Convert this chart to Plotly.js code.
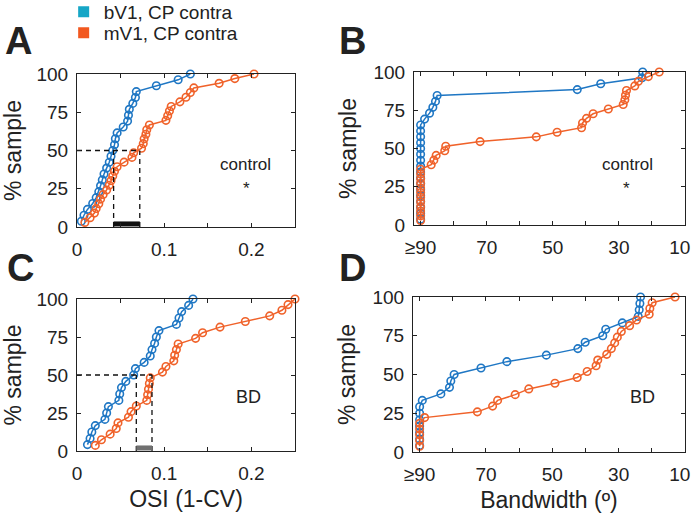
<!DOCTYPE html>
<html>
<head>
<meta charset="utf-8">
<script src="https://cdn.plot.ly/plotly-3.0.1.min.js"></script>
<style>
  html, body { margin: 0; padding: 0; background: #fff; }
  #graph { width: 692px; height: 516px; }
</style>
</head>
<body>
<div id="graph"></div>
<script>
// cumulative % of cells (y) for each group size
const pct26 = [3.8, 7.7, 11.5, 15.4, 19.2, 23.1, 26.9, 30.8, 34.6, 38.5, 42.3, 46.2, 50, 53.8, 57.7, 61.5, 65.4, 69.2, 73.1, 76.9, 80.8, 84.6, 88.5, 92.3, 96.2, 100];
const pct33 = [3, 6.1, 9.1, 12.1, 15.2, 18.2, 21.2, 24.2, 27.3, 30.3, 33.3, 36.4, 39.4, 42.4, 45.5, 48.5, 51.5, 54.5, 57.6, 60.6, 63.6, 66.7, 69.7, 72.7, 75.8, 78.8, 81.8, 84.8, 87.9, 90.9, 93.9, 97, 100];
const pct24 = [4.2, 8.3, 12.5, 16.7, 20.8, 25, 29.2, 33.3, 37.5, 41.7, 45.8, 50, 54.2, 58.3, 62.5, 66.7, 70.8, 75, 79.2, 83.3, 87.5, 91.7, 95.8, 100];
const pct27 = [3.7, 7.4, 11.1, 14.8, 18.5, 22.2, 25.9, 29.6, 33.3, 37, 40.7, 44.4, 48.1, 51.9, 55.6, 59.3, 63, 66.7, 70.4, 74.1, 77.8, 81.5, 85.2, 88.9, 92.6, 96.3, 100];

// A: OSI, control
const osiCtlB = [0.005, 0.008, 0.012, 0.018, 0.022, 0.025, 0.027, 0.029, 0.031, 0.034, 0.037, 0.039, 0.041, 0.043, 0.044, 0.046, 0.053, 0.058, 0.059, 0.060, 0.064, 0.067, 0.068, 0.091, 0.116, 0.130];
const osiCtlM = [0.009, 0.015, 0.020, 0.022, 0.025, 0.027, 0.030, 0.034, 0.037, 0.039, 0.041, 0.043, 0.046, 0.054, 0.063, 0.065, 0.074, 0.076, 0.077, 0.079, 0.080, 0.083, 0.102, 0.104, 0.106, 0.108, 0.118, 0.125, 0.130, 0.134, 0.163, 0.181, 0.203];
const medA = [0.042, 0.072];

// B: bandwidth, control (90 = >=90)
const bwCtlB = [90, 90, 90, 90, 90, 90, 90, 90, 90, 90, 90, 90, 90, 90, 90, 90, 90, 88.8, 87.3, 86.3, 85.5, 85.0, 42.6, 35.5, 23.0, 22.8];
const bwCtlM = [90, 90, 90, 90, 90, 90, 90, 90, 90, 90, 90, 90, 86.8, 86.0, 85.3, 82.7, 82.4, 72.0, 55.0, 48.7, 41.3, 41.0, 39.8, 37.8, 33.2, 28.7, 28.2, 28.0, 27.7, 25.2, 24.1, 21.1, 17.8];

// C: OSI, BD
const osiBdB = [0.012, 0.015, 0.017, 0.021, 0.032, 0.034, 0.036, 0.048, 0.049, 0.051, 0.056, 0.065, 0.067, 0.077, 0.084, 0.086, 0.089, 0.091, 0.094, 0.114, 0.117, 0.120, 0.128, 0.133];
const osiBdM = [0.021, 0.028, 0.038, 0.045, 0.047, 0.059, 0.062, 0.068, 0.080, 0.081, 0.082, 0.083, 0.084, 0.098, 0.102, 0.111, 0.112, 0.114, 0.116, 0.136, 0.144, 0.164, 0.193, 0.221, 0.235, 0.242, 0.250];
const medC = [0.068, 0.086];

// D: bandwidth, BD
const bwBdB = [90, 90, 90, 90, 90, 90, 90, 89.2, 83.6, 81.0, 80.6, 79.6, 71.5, 63.7, 51.8, 42.3, 40.1, 34.8, 33.9, 28.9, 24.1, 23.8, 23.6, 23.4];
const bwBdM = [90, 90, 90, 90, 90, 88.5, 72.6, 68.0, 66.5, 61.2, 57.1, 49.2, 42.5, 39.5, 36.8, 36.3, 33.6, 32.2, 31.2, 30.4, 29.2, 26.7, 24.6, 20.8, 20.6, 19.9, 13.0];

const groups = ['bV1, CP contra', 'mV1, CP contra'];
const osiTicks = ['0', '', '0.1', '', '0.2', ''];
// last label padded so it stays inside the page edge
const bwTicks = ['≥90', '', '70', '', '50', '', '30', '', '10\u00a0\u00a0'];

const blue = '#1f77c4', orange = '#f0622a';
const font = 'Liberation Sans, Arial, sans-serif';
const ink = '#222';

function cdf(x, y, color, xa, ya) {
  return {
    x, y, xaxis: xa, yaxis: ya, mode: 'lines+markers', showlegend: false, cliponaxis: false,
    line: { color, width: 1.5 },
    marker: { symbol: 'circle-open', size: 7.5, color, line: { width: 1.6, color } }
  };
}

function medianMarks(med, barColor, xa, ya) {
  return [
    {
      x: [0, med[1], null, med[0], med[0], null, med[1], med[1]],
      y: [50, 50, null, 0, 50, null, 0, 50],
      xaxis: xa, yaxis: ya, mode: 'lines', showlegend: false, hoverinfo: 'skip',
      line: { color: '#111', width: 1.3, dash: '5px,4px' }
    },
    {
      x: med, y: [2, 2], xaxis: xa, yaxis: ya, mode: 'lines', showlegend: false, hoverinfo: 'skip',
      line: { color: barColor, width: 5 }
    }
  ];
}

const traces = [
  cdf(osiCtlB, pct26, blue, 'x', 'y'),
  cdf(osiCtlM, pct33, orange, 'x', 'y'),
  ...medianMarks(medA, '#111', 'x', 'y'),
  cdf(bwCtlB, pct26, blue, 'x2', 'y2'),
  cdf(bwCtlM, pct33, orange, 'x2', 'y2'),
  cdf(osiBdB, pct24, blue, 'x3', 'y3'),
  cdf(osiBdM, pct27, orange, 'x3', 'y3'),
  ...medianMarks(medC, '#707070', 'x3', 'y3'),
  cdf(bwBdB, pct24, blue, 'x4', 'y4'),
  cdf(bwBdM, pct27, orange, 'x4', 'y4'),
  // legend entries
  { x: [null], y: [null], mode: 'markers', name: groups[0], legend: 'legend', marker: { symbol: 'square', size: 11, color: '#16a6c6' } },
  { x: [null], y: [null], mode: 'markers', name: groups[1], legend: 'legend2', marker: { symbol: 'square', size: 11, color: '#f2581f' } }
];

const axisBase = {
  showline: true, linecolor: ink, linewidth: 1, mirror: 'allticks',
  ticks: 'inside', ticklen: 4, tickcolor: ink, showgrid: false, zeroline: false,
  tickfont: { family: font, size: 19, color: ink }, ticklabeloverflow: 'allow'
};
const titleFont = { family: font, size: 23, color: ink };

const osiAxis = (domain, anchor, withTitle) => Object.assign({}, axisBase, {
  domain, anchor, range: [0, 0.25], ticklabelstandoff: 5,
  tickvals: [0, 0.05, 0.1, 0.15, 0.2, 0.25], ticktext: osiTicks,
  title: withTitle ? { text: 'OSI (1-CV)', font: titleFont, standoff: 8 } : { text: '' }
});
const bwAxis = (domain, anchor, withTitle) => Object.assign({}, axisBase, {
  domain, anchor, range: [92, 10], ticklabelstandoff: 5,
  tickvals: [90, 80, 70, 60, 50, 40, 30, 20, 10], ticktext: bwTicks,
  title: withTitle ? { text: 'Bandwidth (º)', font: titleFont, standoff: 8 } : { text: '' }
});
const pctAxis = (domain, anchor) => Object.assign({}, axisBase, {
  domain, anchor, range: [0, 100], tickvals: [0, 25, 50, 75, 100], ticklabelstandoff: 4,
  title: { text: '% sample', font: titleFont, standoff: 10 }
});

const W = 692, H = 516;
const dx = (a, b) => [a / W, b / W];
const dy = (top, bottom) => [1 - bottom / H, 1 - top / H];

function label(text, x, y, size, bold) {
  return {
    text, x: x / W, y: 1 - y / H, xref: 'paper', yref: 'paper', showarrow: false,
    xanchor: 'center', yanchor: 'middle',
    font: { family: font, size, color: ink, weight: bold ? 'bold' : 'normal' }
  };
}

const legendBase = {
  x: 0.092, xanchor: 'left', yanchor: 'middle', orientation: 'v',
  font: { family: font, size: 19, color: ink }, bgcolor: 'rgba(0,0,0,0)'
};

const layout = {
  width: W, height: H,
  margin: { l: 0, r: 0, t: 0, b: 0, autoexpand: false },
  paper_bgcolor: '#fff', plot_bgcolor: '#fff',
  showlegend: true,
  legend: Object.assign({}, legendBase, { y: 1 - 12 / H }),
  legend2: Object.assign({}, legendBase, { y: 1 - 33 / H }),
  xaxis: osiAxis(dx(77, 295), 'y', false),
  yaxis: pctAxis(dy(74, 227), 'x'),
  xaxis2: bwAxis(dx(414, 685), 'y2', false),
  yaxis2: pctAxis(dy(72, 225), 'x2'),
  xaxis3: osiAxis(dx(77, 295), 'y3', true),
  yaxis3: pctAxis(dy(299, 451), 'x3'),
  xaxis4: bwAxis(dx(413, 685), 'y4', true),
  yaxis4: pctAxis(dy(297, 452), 'x4'),
  annotations: [
    label('A', 18, 41, 38, true),
    label('B', 352, 41, 38, true),
    label('C', 20, 268, 38, true),
    label('D', 352, 268, 38, true),
    label('control', 245, 164, 17, false),
    label('*', 247, 188, 17, false),
    label('control', 627, 164, 17, false),
    label('*', 626, 188, 17, false),
    label('BD', 248, 397, 18, false),
    label('BD', 642, 397, 18, false)
  ]
};

Plotly.newPlot('graph', traces, layout, { displayModeBar: false, staticPlot: true });
</script>
</body>
</html>
